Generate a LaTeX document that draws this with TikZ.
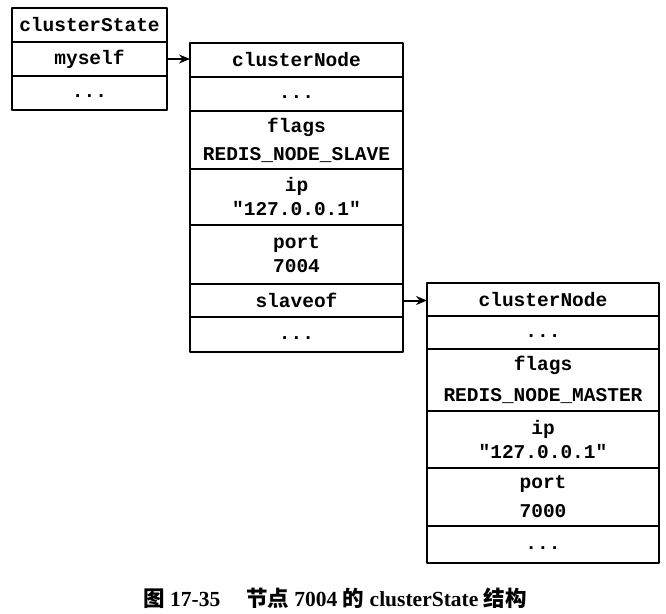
\documentclass[tikz,border=0pt]{standalone}
\usepackage{fontspec}
\setmonofont{Liberation Mono}
\setmainfont{Liberation Serif}
\newfontfamily\cjk{Noto Sans CJK SC}
\usetikzlibrary{positioning,arrows.meta}
\begin{document}
\begin{tikzpicture}[x=1pt,y=-1pt, line join=round,
	font=\fontsize{19.5}{24}\selectfont\ttfamily\bfseries,
	cell/.style={draw, line width=2.5pt, outer sep=0pt, inner sep=0pt, align=center, anchor=north},
	link/.style={-{Stealth[length=11pt,width=9pt]}, line width=2pt}];
	\useasboundingbox (0,0) rectangle (666,613);
	% clusterState
	\node[cell, text width=155pt, minimum height=34pt] (cs) at (89.5,8) {clusterState};
	\node[cell, text width=155pt, minimum height=34pt, below=0pt of cs] (myself) {myself};
	\node[cell, text width=155pt, minimum height=34pt, below=0pt of myself] (csdots) {\strut...};
	% clusterNode 7004
	\node[cell, text width=213pt, minimum height=34pt] (na) at (296.5,43) {clusterNode};
	\node[cell, text width=213pt, minimum height=34pt, below=0pt of na] (nadots) {\strut...};
	\node[cell, text width=213pt, minimum height=58pt, below=0pt of nadots] (naflags) {flags\\[4pt]REDIS\_NODE\_SLAVE};
	\node[cell, text width=213pt, minimum height=56pt, below=0pt of naflags] (naip) {ip\\"127.0.0.1"};
	\node[cell, text width=213pt, minimum height=59pt, below=0pt of naip] (naport) {port\\7004};
	\node[cell, text width=213pt, minimum height=33pt, below=0pt of naport] (slaveof) {slaveof};
	\node[cell, text width=213pt, minimum height=35pt, below=0pt of slaveof] (naend) {\strut...};
	% clusterNode 7000
	\node[cell, text width=232pt, minimum height=33pt] (nb) at (543,283) {clusterNode};
	\node[cell, text width=232pt, minimum height=33pt, below=0pt of nb] (nbdots) {\strut...};
	\node[cell, text width=232pt, minimum height=62pt, below=0pt of nbdots] (nbflags) {flags\\[7pt]REDIS\_NODE\_MASTER};
	\node[cell, text width=232pt, minimum height=57pt, below=0pt of nbflags] (nbip) {ip\\"127.0.0.1"};
	\node[cell, text width=232pt, minimum height=58pt, below=0pt of nbip] (nbport) {port\\[5pt]7000};
	\node[cell, text width=232pt, minimum height=37pt, below=0pt of nbport] (nbend) {\strut...};
	% pointers
	\draw[link] (myself.east) -- (myself.east -| na.west);
	\draw[link] (slaveof.east) -- (slaveof.east -| nb.west);
	\node[font=\fontsize{21.5}{26}\selectfont\rmfamily\bfseries] (caption) at (335,598)
		{{\cjk 图} 17-35\hspace{1.2em}{\cjk 节点} 7004 {\cjk 的} clusterState {\cjk 结构}};
\end{tikzpicture}
\end{document}
